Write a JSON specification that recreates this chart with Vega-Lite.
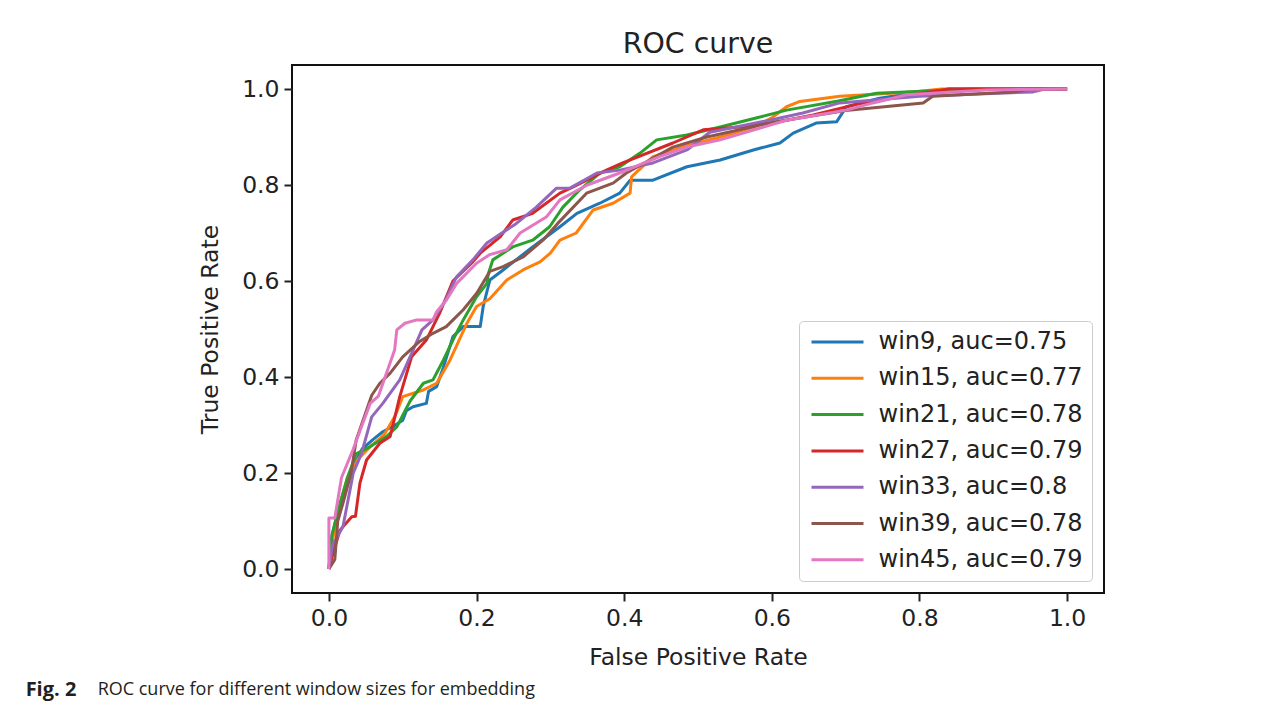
{
  "$schema": "https://vega.github.io/schema/vega-lite/v6.json",
  "background": "white",
  "padding": {"left": 25, "top": 28, "right": 5, "bottom": 5},
  "title": {"text": "ROC curve for different window sizes for embedding", "orient": "bottom", "anchor": "start", "dx": 72, "dy": -19, "font": "Open Sans", "fontSize": 18, "fontWeight": "normal", "color": "#231f20", "offset": 0},
  "resolve": {"legend": {"color": "independent"}},
  "vconcat": [
    {
      "title": {"text": "Fig. 2", "orient": "bottom", "anchor": "start", "dx": -172, "font": "Open Sans", "fontSize": 20, "fontWeight": "bold", "color": "#231f20", "offset": 10},
      "resolve": {"legend": {"color": "independent"}},
      "vconcat": [
        {
          "title": {"text": "ROC curve", "font": "DejaVu Sans", "fontSize": 28.4, "fontWeight": "normal", "color": "#222222", "offset": 6},
          "width": 812,
          "height": 528,
          "data": {"values": [
            {"m":"win9, auc=0.75","fpr":0,"tpr":0},{"m":"win9, auc=0.75","fpr":0.003,"tpr":0.06},{"m":"win9, auc=0.75","fpr":0.012,"tpr":0.12},{"m":"win9, auc=0.75","fpr":0.022,"tpr":0.17},{"m":"win9, auc=0.75","fpr":0.032,"tpr":0.21},{"m":"win9, auc=0.75","fpr":0.045,"tpr":0.25},{"m":"win9, auc=0.75","fpr":0.06,"tpr":0.27},{"m":"win9, auc=0.75","fpr":0.073,"tpr":0.286},{"m":"win9, auc=0.75","fpr":0.09,"tpr":0.3},{"m":"win9, auc=0.75","fpr":0.1,"tpr":0.31},{"m":"win9, auc=0.75","fpr":0.105,"tpr":0.33},{"m":"win9, auc=0.75","fpr":0.114,"tpr":0.338},{"m":"win9, auc=0.75","fpr":0.132,"tpr":0.345},{"m":"win9, auc=0.75","fpr":0.135,"tpr":0.37},{"m":"win9, auc=0.75","fpr":0.146,"tpr":0.38},{"m":"win9, auc=0.75","fpr":0.155,"tpr":0.42},{"m":"win9, auc=0.75","fpr":0.168,"tpr":0.484},{"m":"win9, auc=0.75","fpr":0.182,"tpr":0.505},{"m":"win9, auc=0.75","fpr":0.205,"tpr":0.505},{"m":"win9, auc=0.75","fpr":0.209,"tpr":0.547},{"m":"win9, auc=0.75","fpr":0.218,"tpr":0.602},{"m":"win9, auc=0.75","fpr":0.236,"tpr":0.623},{"m":"win9, auc=0.75","fpr":0.276,"tpr":0.671},{"m":"win9, auc=0.75","fpr":0.313,"tpr":0.713},{"m":"win9, auc=0.75","fpr":0.336,"tpr":0.741},{"m":"win9, auc=0.75","fpr":0.367,"tpr":0.762},{"m":"win9, auc=0.75","fpr":0.394,"tpr":0.783},{"m":"win9, auc=0.75","fpr":0.408,"tpr":0.81},{"m":"win9, auc=0.75","fpr":0.439,"tpr":0.81},{"m":"win9, auc=0.75","fpr":0.485,"tpr":0.838},{"m":"win9, auc=0.75","fpr":0.53,"tpr":0.852},{"m":"win9, auc=0.75","fpr":0.575,"tpr":0.873},{"m":"win9, auc=0.75","fpr":0.611,"tpr":0.8875},{"m":"win9, auc=0.75","fpr":0.629,"tpr":0.908},{"m":"win9, auc=0.75","fpr":0.66,"tpr":0.929},{"m":"win9, auc=0.75","fpr":0.688,"tpr":0.932},{"m":"win9, auc=0.75","fpr":0.701,"tpr":0.963},{"m":"win9, auc=0.75","fpr":0.746,"tpr":0.981},{"m":"win9, auc=0.75","fpr":0.791,"tpr":0.991},{"m":"win9, auc=0.75","fpr":0.84,"tpr":1},{"m":"win9, auc=0.75","fpr":1,"tpr":1},
            {"m":"win15, auc=0.77","fpr":0,"tpr":0},{"m":"win15, auc=0.77","fpr":0.004,"tpr":0.05},{"m":"win15, auc=0.77","fpr":0.012,"tpr":0.12},{"m":"win15, auc=0.77","fpr":0.025,"tpr":0.19},{"m":"win15, auc=0.77","fpr":0.04,"tpr":0.23},{"m":"win15, auc=0.77","fpr":0.056,"tpr":0.255},{"m":"win15, auc=0.77","fpr":0.075,"tpr":0.28},{"m":"win15, auc=0.77","fpr":0.09,"tpr":0.32},{"m":"win15, auc=0.77","fpr":0.1,"tpr":0.359},{"m":"win15, auc=0.77","fpr":0.128,"tpr":0.373},{"m":"win15, auc=0.77","fpr":0.146,"tpr":0.387},{"m":"win15, auc=0.77","fpr":0.164,"tpr":0.435},{"m":"win15, auc=0.77","fpr":0.187,"tpr":0.512},{"m":"win15, auc=0.77","fpr":0.2,"tpr":0.547},{"m":"win15, auc=0.77","fpr":0.218,"tpr":0.563},{"m":"win15, auc=0.77","fpr":0.241,"tpr":0.602},{"m":"win15, auc=0.77","fpr":0.263,"tpr":0.623},{"m":"win15, auc=0.77","fpr":0.286,"tpr":0.64},{"m":"win15, auc=0.77","fpr":0.3,"tpr":0.658},{"m":"win15, auc=0.77","fpr":0.313,"tpr":0.685},{"m":"win15, auc=0.77","fpr":0.335,"tpr":0.7},{"m":"win15, auc=0.77","fpr":0.358,"tpr":0.748},{"m":"win15, auc=0.77","fpr":0.385,"tpr":0.762},{"m":"win15, auc=0.77","fpr":0.408,"tpr":0.783},{"m":"win15, auc=0.77","fpr":0.41,"tpr":0.817},{"m":"win15, auc=0.77","fpr":0.439,"tpr":0.859},{"m":"win15, auc=0.77","fpr":0.48,"tpr":0.88},{"m":"win15, auc=0.77","fpr":0.53,"tpr":0.9},{"m":"win15, auc=0.77","fpr":0.575,"tpr":0.92},{"m":"win15, auc=0.77","fpr":0.6,"tpr":0.94},{"m":"win15, auc=0.77","fpr":0.62,"tpr":0.963},{"m":"win15, auc=0.77","fpr":0.638,"tpr":0.974},{"m":"win15, auc=0.77","fpr":0.692,"tpr":0.985},{"m":"win15, auc=0.77","fpr":0.791,"tpr":0.994},{"m":"win15, auc=0.77","fpr":0.83,"tpr":1},{"m":"win15, auc=0.77","fpr":1,"tpr":1},
            {"m":"win21, auc=0.78","fpr":0,"tpr":0},{"m":"win21, auc=0.78","fpr":0.004,"tpr":0.07},{"m":"win21, auc=0.78","fpr":0.014,"tpr":0.13},{"m":"win21, auc=0.78","fpr":0.025,"tpr":0.19},{"m":"win21, auc=0.78","fpr":0.037,"tpr":0.24},{"m":"win21, auc=0.78","fpr":0.056,"tpr":0.255},{"m":"win21, auc=0.78","fpr":0.078,"tpr":0.276},{"m":"win21, auc=0.78","fpr":0.092,"tpr":0.296},{"m":"win21, auc=0.78","fpr":0.11,"tpr":0.35},{"m":"win21, auc=0.78","fpr":0.128,"tpr":0.387},{"m":"win21, auc=0.78","fpr":0.141,"tpr":0.394},{"m":"win21, auc=0.78","fpr":0.155,"tpr":0.435},{"m":"win21, auc=0.78","fpr":0.168,"tpr":0.477},{"m":"win21, auc=0.78","fpr":0.182,"tpr":0.519},{"m":"win21, auc=0.78","fpr":0.2,"tpr":0.567},{"m":"win21, auc=0.78","fpr":0.214,"tpr":0.595},{"m":"win21, auc=0.78","fpr":0.216,"tpr":0.615},{"m":"win21, auc=0.78","fpr":0.222,"tpr":0.644},{"m":"win21, auc=0.78","fpr":0.249,"tpr":0.671},{"m":"win21, auc=0.78","fpr":0.276,"tpr":0.685},{"m":"win21, auc=0.78","fpr":0.299,"tpr":0.713},{"m":"win21, auc=0.78","fpr":0.317,"tpr":0.754},{"m":"win21, auc=0.78","fpr":0.34,"tpr":0.79},{"m":"win21, auc=0.78","fpr":0.367,"tpr":0.825},{"m":"win21, auc=0.78","fpr":0.394,"tpr":0.838},{"m":"win21, auc=0.78","fpr":0.421,"tpr":0.866},{"m":"win21, auc=0.78","fpr":0.444,"tpr":0.894},{"m":"win21, auc=0.78","fpr":0.485,"tpr":0.904},{"m":"win21, auc=0.78","fpr":0.53,"tpr":0.921},{"m":"win21, auc=0.78","fpr":0.58,"tpr":0.94},{"m":"win21, auc=0.78","fpr":0.62,"tpr":0.956},{"m":"win21, auc=0.78","fpr":0.69,"tpr":0.975},{"m":"win21, auc=0.78","fpr":0.742,"tpr":0.991},{"m":"win21, auc=0.78","fpr":0.873,"tpr":1},{"m":"win21, auc=0.78","fpr":1,"tpr":1},
            {"m":"win27, auc=0.79","fpr":0,"tpr":0},{"m":"win27, auc=0.79","fpr":0.005,"tpr":0.03},{"m":"win27, auc=0.79","fpr":0.015,"tpr":0.081},{"m":"win27, auc=0.79","fpr":0.031,"tpr":0.109},{"m":"win27, auc=0.79","fpr":0.036,"tpr":0.11},{"m":"win27, auc=0.79","fpr":0.042,"tpr":0.179},{"m":"win27, auc=0.79","fpr":0.051,"tpr":0.227},{"m":"win27, auc=0.79","fpr":0.069,"tpr":0.262},{"m":"win27, auc=0.79","fpr":0.083,"tpr":0.276},{"m":"win27, auc=0.79","fpr":0.096,"tpr":0.359},{"m":"win27, auc=0.79","fpr":0.112,"tpr":0.442},{"m":"win27, auc=0.79","fpr":0.132,"tpr":0.477},{"m":"win27, auc=0.79","fpr":0.15,"tpr":0.533},{"m":"win27, auc=0.79","fpr":0.168,"tpr":0.6},{"m":"win27, auc=0.79","fpr":0.195,"tpr":0.64},{"m":"win27, auc=0.79","fpr":0.205,"tpr":0.658},{"m":"win27, auc=0.79","fpr":0.232,"tpr":0.692},{"m":"win27, auc=0.79","fpr":0.249,"tpr":0.727},{"m":"win27, auc=0.79","fpr":0.276,"tpr":0.741},{"m":"win27, auc=0.79","fpr":0.313,"tpr":0.783},{"m":"win27, auc=0.79","fpr":0.331,"tpr":0.796},{"m":"win27, auc=0.79","fpr":0.376,"tpr":0.831},{"m":"win27, auc=0.79","fpr":0.398,"tpr":0.846},{"m":"win27, auc=0.79","fpr":0.466,"tpr":0.8875},{"m":"win27, auc=0.79","fpr":0.507,"tpr":0.915},{"m":"win27, auc=0.79","fpr":0.557,"tpr":0.921},{"m":"win27, auc=0.79","fpr":0.611,"tpr":0.932},{"m":"win27, auc=0.79","fpr":0.656,"tpr":0.946},{"m":"win27, auc=0.79","fpr":0.72,"tpr":0.97},{"m":"win27, auc=0.79","fpr":0.814,"tpr":0.994},{"m":"win27, auc=0.79","fpr":0.84,"tpr":1},{"m":"win27, auc=0.79","fpr":1,"tpr":1},
            {"m":"win33, auc=0.8","fpr":0,"tpr":0},{"m":"win33, auc=0.8","fpr":0.005,"tpr":0.05},{"m":"win33, auc=0.8","fpr":0.019,"tpr":0.088},{"m":"win33, auc=0.8","fpr":0.033,"tpr":0.2},{"m":"win33, auc=0.8","fpr":0.044,"tpr":0.24},{"m":"win33, auc=0.8","fpr":0.058,"tpr":0.317},{"m":"win33, auc=0.8","fpr":0.073,"tpr":0.345},{"m":"win33, auc=0.8","fpr":0.096,"tpr":0.394},{"m":"win33, auc=0.8","fpr":0.114,"tpr":0.456},{"m":"win33, auc=0.8","fpr":0.126,"tpr":0.498},{"m":"win33, auc=0.8","fpr":0.141,"tpr":0.519},{"m":"win33, auc=0.8","fpr":0.157,"tpr":0.557},{"m":"win33, auc=0.8","fpr":0.173,"tpr":0.609},{"m":"win33, auc=0.8","fpr":0.195,"tpr":0.644},{"m":"win33, auc=0.8","fpr":0.214,"tpr":0.679},{"m":"win33, auc=0.8","fpr":0.254,"tpr":0.72},{"m":"win33, auc=0.8","fpr":0.281,"tpr":0.754},{"m":"win33, auc=0.8","fpr":0.308,"tpr":0.793},{"m":"win33, auc=0.8","fpr":0.326,"tpr":0.793},{"m":"win33, auc=0.8","fpr":0.363,"tpr":0.825},{"m":"win33, auc=0.8","fpr":0.394,"tpr":0.831},{"m":"win33, auc=0.8","fpr":0.439,"tpr":0.846},{"m":"win33, auc=0.8","fpr":0.485,"tpr":0.873},{"m":"win33, auc=0.8","fpr":0.516,"tpr":0.91},{"m":"win33, auc=0.8","fpr":0.597,"tpr":0.935},{"m":"win33, auc=0.8","fpr":0.642,"tpr":0.95},{"m":"win33, auc=0.8","fpr":0.692,"tpr":0.971},{"m":"win33, auc=0.8","fpr":0.8,"tpr":0.985},{"m":"win33, auc=0.8","fpr":0.954,"tpr":0.994},{"m":"win33, auc=0.8","fpr":0.97,"tpr":1},{"m":"win33, auc=0.8","fpr":1,"tpr":1},
            {"m":"win39, auc=0.78","fpr":0,"tpr":0},{"m":"win39, auc=0.78","fpr":0.008,"tpr":0.02},{"m":"win39, auc=0.78","fpr":0.012,"tpr":0.1},{"m":"win39, auc=0.78","fpr":0.019,"tpr":0.137},{"m":"win39, auc=0.78","fpr":0.03,"tpr":0.2},{"m":"win39, auc=0.78","fpr":0.037,"tpr":0.269},{"m":"win39, auc=0.78","fpr":0.058,"tpr":0.362},{"m":"win39, auc=0.78","fpr":0.069,"tpr":0.387},{"m":"win39, auc=0.78","fpr":0.083,"tpr":0.408},{"m":"win39, auc=0.78","fpr":0.1,"tpr":0.442},{"m":"win39, auc=0.78","fpr":0.123,"tpr":0.474},{"m":"win39, auc=0.78","fpr":0.141,"tpr":0.491},{"m":"win39, auc=0.78","fpr":0.159,"tpr":0.505},{"m":"win39, auc=0.78","fpr":0.182,"tpr":0.54},{"m":"win39, auc=0.78","fpr":0.2,"tpr":0.574},{"m":"win39, auc=0.78","fpr":0.218,"tpr":0.62},{"m":"win39, auc=0.78","fpr":0.236,"tpr":0.63},{"m":"win39, auc=0.78","fpr":0.263,"tpr":0.65},{"m":"win39, auc=0.78","fpr":0.29,"tpr":0.685},{"m":"win39, auc=0.78","fpr":0.31,"tpr":0.72},{"m":"win39, auc=0.78","fpr":0.349,"tpr":0.783},{"m":"win39, auc=0.78","fpr":0.385,"tpr":0.804},{"m":"win39, auc=0.78","fpr":0.403,"tpr":0.825},{"m":"win39, auc=0.78","fpr":0.466,"tpr":0.879},{"m":"win39, auc=0.78","fpr":0.512,"tpr":0.9},{"m":"win39, auc=0.78","fpr":0.6,"tpr":0.93},{"m":"win39, auc=0.78","fpr":0.7,"tpr":0.955},{"m":"win39, auc=0.78","fpr":0.805,"tpr":0.971},{"m":"win39, auc=0.78","fpr":0.818,"tpr":0.985},{"m":"win39, auc=0.78","fpr":0.927,"tpr":0.994},{"m":"win39, auc=0.78","fpr":0.95,"tpr":1},{"m":"win39, auc=0.78","fpr":1,"tpr":1},
            {"m":"win45, auc=0.79","fpr":0,"tpr":0},{"m":"win45, auc=0.79","fpr":0,"tpr":0.106},{"m":"win45, auc=0.79","fpr":0.008,"tpr":0.106},{"m":"win45, auc=0.79","fpr":0.017,"tpr":0.19},{"m":"win45, auc=0.79","fpr":0.033,"tpr":0.25},{"m":"win45, auc=0.79","fpr":0.044,"tpr":0.296},{"m":"win45, auc=0.79","fpr":0.056,"tpr":0.345},{"m":"win45, auc=0.79","fpr":0.067,"tpr":0.36},{"m":"win45, auc=0.79","fpr":0.089,"tpr":0.456},{"m":"win45, auc=0.79","fpr":0.092,"tpr":0.498},{"m":"win45, auc=0.79","fpr":0.103,"tpr":0.512},{"m":"win45, auc=0.79","fpr":0.119,"tpr":0.519},{"m":"win45, auc=0.79","fpr":0.141,"tpr":0.519},{"m":"win45, auc=0.79","fpr":0.146,"tpr":0.536},{"m":"win45, auc=0.79","fpr":0.159,"tpr":0.56},{"m":"win45, auc=0.79","fpr":0.173,"tpr":0.595},{"m":"win45, auc=0.79","fpr":0.2,"tpr":0.637},{"m":"win45, auc=0.79","fpr":0.218,"tpr":0.655},{"m":"win45, auc=0.79","fpr":0.241,"tpr":0.665},{"m":"win45, auc=0.79","fpr":0.259,"tpr":0.7},{"m":"win45, auc=0.79","fpr":0.295,"tpr":0.734},{"m":"win45, auc=0.79","fpr":0.313,"tpr":0.769},{"m":"win45, auc=0.79","fpr":0.35,"tpr":0.8},{"m":"win45, auc=0.79","fpr":0.394,"tpr":0.825},{"m":"win45, auc=0.79","fpr":0.448,"tpr":0.859},{"m":"win45, auc=0.79","fpr":0.485,"tpr":0.879},{"m":"win45, auc=0.79","fpr":0.53,"tpr":0.894},{"m":"win45, auc=0.79","fpr":0.62,"tpr":0.935},{"m":"win45, auc=0.79","fpr":0.701,"tpr":0.956},{"m":"win45, auc=0.79","fpr":0.737,"tpr":0.971},{"m":"win45, auc=0.79","fpr":0.783,"tpr":0.988},{"m":"win45, auc=0.79","fpr":0.891,"tpr":0.998},{"m":"win45, auc=0.79","fpr":1,"tpr":1}
          ]},
          "mark": {"type": "line", "strokeWidth": 3, "strokeJoin": "round"},
          "encoding": {
            "x": {"field": "fpr", "type": "quantitative", "title": "False Positive Rate",
                  "scale": {"domain": [-0.05, 1.05], "nice": false, "zero": false},
                  "axis": {"values": [0, 0.2, 0.4, 0.6, 0.8, 1], "format": ".1f", "titlePadding": 16}},
            "y": {"field": "tpr", "type": "quantitative", "title": "True Positive Rate",
                  "scale": {"domain": [-0.05, 1.05], "nice": false, "zero": false},
                  "axis": {"values": [0, 0.2, 0.4, 0.6, 0.8, 1], "format": ".1f", "titlePadding": 19}},
            "color": {"field": "m", "type": "nominal",
                      "scale": {"domain": ["win9, auc=0.75", "win15, auc=0.77", "win21, auc=0.78", "win27, auc=0.79", "win33, auc=0.8", "win39, auc=0.78", "win45, auc=0.79"],
                                "range": ["#1f77b4", "#ff7f0e", "#2ca02c", "#d62728", "#9467bd", "#8c564b", "#e377c2"]},
                      "legend": {"title": null, "orient": "bottom-right", "offset": 12}},
            "order": {"value": null}
          }
        }
      ]
    }
  ],
  "config": {
    "view": {"stroke": "#111111", "strokeWidth": 2},
    "axis": {"grid": false, "domain": false, "labelFont": "DejaVu Sans", "labelFontSize": 23.5, "labelColor": "#222222",
             "titleFont": "DejaVu Sans", "titleFontSize": 23.5, "titleFontWeight": "normal", "titleColor": "#222222",
             "tickColor": "#222222", "tickSize": 8, "tickWidth": 2, "labelPadding": 5},
    "legend": {"symbolType": "M0,0H10.4", "symbolSize": 100, "symbolStrokeWidth": 3, "symbolOffset": -8.5, "labelFont": "DejaVu Sans", "labelFontSize": 24,
               "labelColor": "#222222", "labelOffset": 55, "rowPadding": 12.3, "padding": 9, "strokeColor": "#cccccc",
               "fillColor": "rgba(255,255,255,0.8)", "cornerRadius": 4, "labelLimit": 400}
  }
}
